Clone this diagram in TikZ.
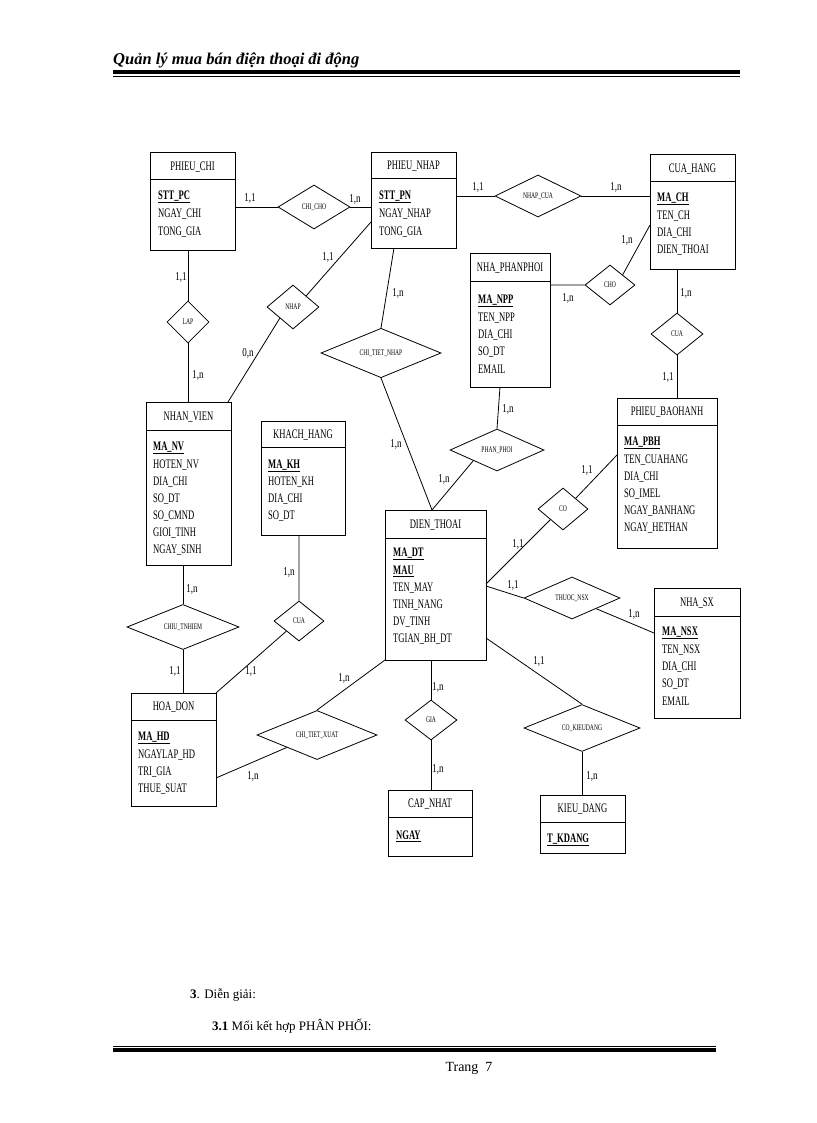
\documentclass[tikz,border=0pt]{standalone}
\usepackage{fontspec}
\setmainfont{Liberation Serif}
\newfontfamily\cf{Liberation Serif}[FakeStretch=0.66]
\newfontfamily\cg{Liberation Serif}[FakeStretch=0.75]
\usetikzlibrary{shapes.geometric}
\tikzset{
 ent/.style={draw,line width=1pt,inner sep=0pt},
 rel/.style={draw,line width=0.8pt,shape=diamond,inner sep=0pt,font=\cf\fontsize{8.5}{9}\selectfont},
 con/.style={line width=0.8pt},
 ttl/.style={font=\cf\fontsize{13}{14}\selectfont},
 att/.style={font=\cf\fontsize{13}{14}\selectfont,anchor=west,inner sep=0pt},
 lbl/.style={font=\cg\fontsize{12}{13}\selectfont,inner sep=0pt},
}
\newcommand\Ent[7]{%
 \node[ent,minimum width={(#4-#2)*1pt},minimum height={(#5-#3)*1pt}] (#1) at ({(#2+#4)/2},{(#3+#5)/2}) {};
 \draw[line width=0.8pt] (#2,#6)--(#4,#6);
 \node[ttl] (#1t) at ({(#2+#4)/2},{(#3+#6)/2+1}) {#7};}
\newcommand\At[4]{\node[att] (#1) at (#2,#3) {#4};}
\newcommand\K[1]{\underline{\textbf{#1}}}
\newcommand\Rel[6]{\node[rel,minimum width={2*#4*1pt},minimum height={2*#5*1pt}] (#1) at (#2,#3) {#6};}
\begin{document}
\begin{tikzpicture}[x=1pt,y=-1pt]
\useasboundingbox (0,0) rectangle (816,1123);
% page header
\node[anchor=base west,inner sep=0pt,font=\fontsize{16.5}{18}\selectfont\bfseries\itshape] (hd) at (113,65) {Quản lý mua bán điện thoại đi động};
\fill (113,70.5) rectangle (740,74);
\draw[line width=0.8pt] (113,76.5) -- (740,76.5);
% entities
\Ent{pc}{150}{153}{235}{250}{179}{PHIEU\_CHI}
\At{pc1}{158}{197}{\K{STT\_PC}}\At{pc2}{158}{214}{NGAY\_CHI}\At{pc3}{158}{232}{TONG\_GIA}
\Ent{pn}{371}{153}{456}{248}{178}{PHIEU\_NHAP}
\At{pn1}{379}{197}{\K{STT\_PN}}\At{pn2}{379}{214}{NGAY\_NHAP}\At{pn3}{379}{232}{TONG\_GIA}
\Ent{ch}{650}{155}{735}{269}{181}{CUA\_HANG}
\At{ch1}{657}{199}{\K{MA\_CH}}\At{ch2}{657}{216}{TEN\_CH}\At{ch3}{657}{233}{DIA\_CHI}\At{ch4}{657}{250}{DIEN\_THOAI}
\Ent{npp}{470}{253}{550}{387}{281}{NHA\_PHANPHOI}
\At{np1}{478}{301}{\K{MA\_NPP}}\At{np2}{478}{318}{TEN\_NPP}\At{np3}{478}{335}{DIA\_CHI}\At{np4}{478}{352}{SO\_DT}\At{np5}{478}{369}{EMAIL}
\Ent{pbh}{617}{398}{717}{548}{425}{PHIEU\_BAOHANH}
\At{pb1}{624}{443}{\K{MA\_PBH}}\At{pb2}{624}{460}{TEN\_CUAHANG}\At{pb3}{624}{477}{DIA\_CHI}\At{pb4}{624}{494}{SO\_IMEL}\At{pb5}{624}{511}{NGAY\_BANHANG}\At{pb6}{624}{528}{NGAY\_HETHAN}
\Ent{nv}{146}{402}{231}{565}{430}{NHAN\_VIEN}
\At{nv1}{153}{448}{\K{MA\_NV}}\At{nv2}{153}{465}{HOTEN\_NV}\At{nv3}{153}{482}{DIA\_CHI}\At{nv4}{153}{499}{SO\_DT}\At{nv5}{153}{516}{SO\_CMND}\At{nv6}{153}{533}{GIOI\_TINH}\At{nv7}{153}{550}{NGAY\_SINH}
\Ent{kh}{261}{421}{345}{535}{447}{KHACH\_HANG}
\At{kh1}{268}{466}{\K{MA\_KH}}\At{kh2}{268}{482}{HOTEN\_KH}\At{kh3}{268}{499}{DIA\_CHI}\At{kh4}{268}{516}{SO\_DT}
\Ent{dt}{385}{510}{486}{660}{538}{DIEN\_THOAI}
\At{dt1}{393}{554}{\K{MA\_DT}}\At{dt2}{393}{571}{\K{MAU}}\At{dt3}{393}{588}{TEN\_MAY}\At{dt4}{393}{605}{TINH\_NANG}\At{dt5}{393}{622}{DV\_TINH}\At{dt6}{393}{639}{TGIAN\_BH\_DT}
\Ent{hd}{131}{693}{216}{806}{720}{HOA\_DON}
\At{hd1}{138}{738}{\K{MA\_HD}}\At{hd2}{138}{755}{NGAYLAP\_HD}\At{hd3}{138}{772}{TRI\_GIA}\At{hd4}{138}{789}{THUE\_SUAT}
\Ent{cn}{388}{790}{472}{856}{817}{CAP\_NHAT}
\At{cn1}{396}{836}{\K{NGAY}}
\Ent{kd}{540}{795}{625}{853}{822}{KIEU\_DANG}
\At{kd1}{547}{840}{\K{T\_KDANG}}
\Ent{sx}{654}{588}{740}{718}{616}{NHA\_SX}
\At{sx1}{662}{633}{\K{MA\_NSX}}\At{sx2}{662}{650}{TEN\_NSX}\At{sx3}{662}{667}{DIA\_CHI}\At{sx4}{662}{684}{SO\_DT}\At{sx5}{662}{701}{EMAIL}
% relationships
\Rel{chicho}{314}{207}{36}{22}{CHI\_CHO}
\Rel{nhapcua}{538}{196}{43}{21}{NHAP\_CUA}
\Rel{cho}{610}{285}{25}{20}{CHO}
\Rel{cua1}{677}{334}{26}{21}{CUA}
\Rel{lap}{188}{322}{21}{21}{LAP}
\Rel{nhap}{293}{307}{26}{22}{NHAP}
\Rel{ctn}{381}{353}{60}{22}{CHI\_TIET\_NHAP}
\Rel{pp}{497}{450}{47}{21}{PHAN\_PHOI}
\Rel{co}{563}{509}{25}{21}{CO}
\Rel{tnsx}{572}{598}{48}{21}{THUOC\_NSX}
\Rel{ctnh}{183}{627}{56}{20}{CHIU\_TNHIEM}
\Rel{cua2}{299}{621}{25}{20}{CUA}
\Rel{ctx}{317}{735}{60}{22}{CHI\_TIET\_XUAT}
\Rel{gia}{431}{720}{26}{20}{GIA}
\Rel{ckd}{582}{728}{58}{21}{CO\_KIEUDANG}
% connectors
\coordinate (pcE) at (235,207);
\coordinate (pnW) at (371,207);
\coordinate (pnE) at (456,196);
\coordinate (chW) at (650,196);
\coordinate (chW2) at (650,225);
\coordinate (npE) at (550,285);
\coordinate (chS) at (677,269);
\coordinate (pbN) at (677,398);
\coordinate (pcS) at (188,250);
\coordinate (nvN) at (188,402);
\coordinate (pnW2) at (371,222);
\coordinate (nvN2) at (228,402);
\coordinate (pnS) at (394,248);
\coordinate (dtN) at (432,510);
\coordinate (npS) at (500,387);
\coordinate (pbW) at (617,455);
\coordinate (dtE1) at (486,584);
\coordinate (dtE2) at (486,586);
\coordinate (sxW) at (654,633);
\coordinate (dtE3) at (486,638);
\coordinate (kdN) at (582,795);
\coordinate (dtS) at (431,660);
\coordinate (cnN) at (431,790);
\coordinate (dtSW) at (385,660);
\coordinate (hdE) at (216,778);
\coordinate (nvS) at (183,565);
\coordinate (hdN) at (183,693);
\coordinate (khS) at (299,535);
\coordinate (hdNE) at (216,693);
\draw[con] (pcE) -- (chicho.west) (chicho.east) -- (pnW);
\draw[con] (pnE) -- (nhapcua.west) (nhapcua.east) -- (chW);
\draw[con] (chW2) -- (cho.north east) (cho.west) -- (npE);
\draw[con] (chS) -- (cua1.north) (cua1.south) -- (pbN);
\draw[con] (pcS) -- (lap.north) (lap.south) -- (nvN);
\draw[con] (pnW2) -- (nhap.north east) (nhap.south west) -- (nvN2);
\draw[con] (pnS) -- (ctn.north) (ctn.south) -- (dtN);
\draw[con] (npS) -- (pp.north) (pp.south west) -- (dtN);
\draw[con] (pbW) -- (co.north east) (co.south west) -- (dtE1);
\draw[con] (dtE2) -- (tnsx.west) (tnsx.south east) -- (sxW);
\draw[con] (dtE3) -- (ckd.north);
\draw[con] (ckd.south) -- (kdN);
\draw[con] (dtS) -- (gia.north) (gia.south) -- (cnN);
\draw[con] (dtSW) -- (ctx.north) (ctx.south west) -- (hdE);
\draw[con] (nvS) -- (ctnh.north) (ctnh.south) -- (hdN);
\draw[con] (khS) -- (cua2.north) (cua2.south west) -- (hdNE);
% cardinality labels
\node[lbl] (l1) at (250,198) {1,1};
\node[lbl] (l2) at (355,199) {1,n};
\node[lbl] (l3) at (478,187) {1,1};
\node[lbl] (l4) at (616,187) {1,n};
\node[lbl] (l5) at (627,240) {1,n};
\node[lbl] (l6) at (568,298) {1,n};
\node[lbl] (l7) at (686,293) {1,n};
\node[lbl] (l8) at (668,377) {1,1};
\node[lbl] (l9) at (181,277) {1,1};
\node[lbl] (l10) at (198,375) {1,n};
\node[lbl] (l11) at (328,257) {1,1};
\node[lbl] (l12) at (248,353) {0,n};
\node[lbl] (l13) at (398,293) {1,n};
\node[lbl] (l14) at (396,444) {1,n};
\node[lbl] (l15) at (508,409) {1,n};
\node[lbl] (l16) at (444,479) {1,n};
\node[lbl] (l17) at (587,470) {1,1};
\node[lbl] (l18) at (518,544) {1,1};
\node[lbl] (l19) at (513,585) {1,1};
\node[lbl] (l20) at (634,614) {1,n};
\node[lbl] (l21) at (539,661) {1,1};
\node[lbl] (l22) at (592,776) {1,n};
\node[lbl] (l23) at (438,687) {1,n};
\node[lbl] (l24) at (438,769) {1,n};
\node[lbl] (l25) at (344,678) {1,n};
\node[lbl] (l26) at (253,776) {1,n};
\node[lbl] (l27) at (192,589) {1,n};
\node[lbl] (l28) at (175,671) {1,1};
\node[lbl] (l29) at (289,572) {1,n};
\node[lbl] (l30) at (251,671) {1,1};
% text below
\node[anchor=base west,inner sep=0pt,font=\fontsize{13}{15}\selectfont] (s3) at (190,998) {\textbf{3}. Diễn giải:};
\node[anchor=base west,inner sep=0pt,font=\fontsize{13}{15}\selectfont] (s31) at (212,1030) {\textbf{3.1} Mối kết hợp PHÂN PHỐI:};
\draw[line width=0.8pt] (113,1046.5) -- (716,1046.5);
\fill (113,1048) rectangle (716,1051.5);
\node[anchor=base,inner sep=0pt,font=\fontsize{14}{16}\selectfont] (pg) at (469,1071) {Trang\ \ 7};
\end{tikzpicture}
\end{document}
